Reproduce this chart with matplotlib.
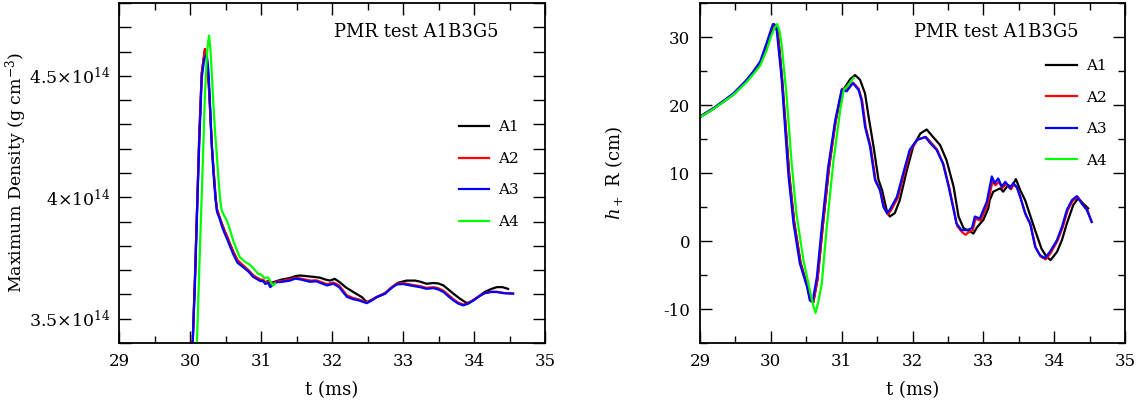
import matplotlib
matplotlib.use("Agg")
import matplotlib.pyplot as plt
from matplotlib.ticker import MultipleLocator, FixedLocator, FixedFormatter

plt.rcParams['font.family'] = ['DejaVu Serif']
plt.rcParams['mathtext.fontset'] = 'dejavuserif'
plt.rcParams['axes.unicode_minus'] = False

# ---------------- Left panel: maximum density (units of 1e14 g/cm^3) ----------------
rho_t_A1 = [30.03, 30.07, 30.10, 30.13, 30.165, 30.21, 30.24, 30.265, 30.29, 30.31, 30.34, 30.36,
            30.38, 30.42, 30.45, 30.49, 30.52, 30.56, 30.61, 30.67, 30.75, 30.82, 30.89, 30.95,
            30.99, 31.03, 31.06, 31.10, 31.15, 31.22, 31.30, 31.40, 31.48, 31.55, 31.65, 31.75,
            31.83, 31.90, 31.97, 32.04, 32.11, 32.20, 32.30, 32.42, 32.49, 32.56, 32.63, 32.70,
            32.77, 32.85, 32.93, 33.05, 33.17, 33.25, 33.33, 33.43, 33.50, 33.57, 33.64, 33.71,
            33.80, 33.90, 33.99, 34.07, 34.15, 34.24, 34.32, 34.40, 34.48]
rho_A1 = [3.34, 3.67, 3.96, 4.25, 4.51, 4.61, 4.56, 4.46, 4.32, 4.20, 4.08, 4.00,
          3.95, 3.915, 3.89, 3.86, 3.84, 3.81, 3.775, 3.74, 3.718, 3.70, 3.678, 3.667,
          3.660, 3.660, 3.650, 3.655, 3.648, 3.655, 3.662, 3.667, 3.675, 3.678, 3.675, 3.672,
          3.669, 3.662, 3.657, 3.664, 3.650, 3.628, 3.610, 3.589, 3.568, 3.578, 3.589, 3.598,
          3.610, 3.630, 3.648, 3.657, 3.657, 3.652, 3.644, 3.647, 3.645, 3.637, 3.620, 3.603,
          3.583, 3.564, 3.575, 3.592, 3.610, 3.622, 3.630, 3.630, 3.623]

rho_t_A2 = [30.03, 30.07, 30.10, 30.13, 30.165, 30.21, 30.24, 30.265, 30.29, 30.31, 30.34, 30.36,
            30.38, 30.42, 30.45, 30.49, 30.52, 30.56, 30.61, 30.67, 30.75, 30.82, 30.89, 30.95,
            30.99, 31.03, 31.06, 31.10, 31.13, 31.17, 31.22, 31.30, 31.41, 31.48, 31.55, 31.69,
            31.78, 31.83, 31.93, 32.02, 32.10, 32.21, 32.30, 32.37, 32.49, 32.56, 32.63, 32.75,
            32.83, 32.91, 33.00, 33.10, 33.24, 33.33, 33.43, 33.50, 33.57, 33.64, 33.71, 33.78,
            33.85, 33.92, 33.99, 34.07, 34.15, 34.24, 34.32, 34.42, 34.55]
rho_A2 = [3.34, 3.67, 3.96, 4.25, 4.51, 4.61, 4.56, 4.46, 4.32, 4.20, 4.08, 4.00,
          3.95, 3.915, 3.89, 3.86, 3.84, 3.81, 3.775, 3.74, 3.718, 3.70, 3.678, 3.667,
          3.660, 3.660, 3.648, 3.652, 3.636, 3.645, 3.653, 3.656, 3.662, 3.668, 3.666, 3.657,
          3.658, 3.653, 3.642, 3.649, 3.637, 3.596, 3.585, 3.580, 3.567, 3.577, 3.590, 3.605,
          3.628, 3.644, 3.647, 3.641, 3.634, 3.627, 3.630, 3.625, 3.615, 3.598, 3.580, 3.566,
          3.558, 3.564, 3.577, 3.593, 3.606, 3.611, 3.611, 3.606, 3.604]

rho_t_A3 = [30.03, 30.07, 30.10, 30.13, 30.165, 30.20, 30.235, 30.26, 30.28, 30.30, 30.33, 30.36,
            30.38, 30.42, 30.45, 30.49, 30.52, 30.56, 30.61, 30.67, 30.75, 30.82, 30.89, 30.95,
            30.99, 31.03, 31.06, 31.10, 31.13, 31.17, 31.22, 31.30, 31.41, 31.48, 31.55, 31.69,
            31.78, 31.83, 31.93, 32.02, 32.10, 32.21, 32.30, 32.37, 32.49, 32.56, 32.63, 32.75,
            32.83, 32.91, 33.00, 33.10, 33.24, 33.33, 33.43, 33.50, 33.57, 33.64, 33.71, 33.78,
            33.85, 33.92, 33.99, 34.07, 34.15, 34.24, 34.32, 34.42, 34.55]
rho_A3 = [3.33, 3.65, 3.94, 4.22, 4.49, 4.57, 4.59, 4.52, 4.40, 4.25, 4.10, 3.99,
          3.94, 3.91, 3.88, 3.85, 3.83, 3.80, 3.765, 3.73, 3.712, 3.695, 3.672, 3.662,
          3.655, 3.655, 3.643, 3.648, 3.630, 3.640, 3.650, 3.652, 3.657, 3.665, 3.662, 3.652,
          3.654, 3.648, 3.637, 3.644, 3.630, 3.590, 3.580, 3.576, 3.564, 3.575, 3.589, 3.603,
          3.625, 3.641, 3.643, 3.637, 3.630, 3.623, 3.626, 3.620, 3.610, 3.592, 3.575, 3.562,
          3.555, 3.562, 3.575, 3.592, 3.605, 3.610, 3.610, 3.605, 3.603]

rho_t_A4 = [30.09, 30.13, 30.17, 30.21, 30.24, 30.268, 30.29, 30.305, 30.33, 30.355, 30.376, 30.40,
            30.425, 30.446, 30.48, 30.517, 30.56, 30.61, 30.65, 30.70, 30.77, 30.845, 30.90, 30.96,
            31.00, 31.05, 31.10, 31.14, 31.17, 31.20]
rho_A4 = [3.33, 3.70, 4.05, 4.42, 4.60, 4.666, 4.60, 4.52, 4.38, 4.26, 4.18, 4.08,
          3.99, 3.946, 3.925, 3.905, 3.87, 3.82, 3.79, 3.754, 3.735, 3.722, 3.705, 3.685,
          3.682, 3.668, 3.670, 3.650, 3.637, 3.645]

# ---------------- Right panel: h+ R (cm) ----------------
h_t_A1 = [29.00, 29.20, 29.47, 29.65, 29.75, 29.85, 29.94, 30.00, 30.04, 30.07, 30.10, 30.16,
          30.21, 30.26, 30.33, 30.42, 30.52, 30.56, 30.60, 30.66, 30.73, 30.82, 30.91, 31.00,
          31.07, 31.12, 31.19, 31.26, 31.33, 31.38, 31.45, 31.52, 31.57, 31.64, 31.68, 31.75,
          31.82, 31.92, 32.01, 32.11, 32.20, 32.29, 32.39, 32.48, 32.58, 32.65, 32.72, 32.81,
          32.86, 32.91, 33.00, 33.07, 33.09, 33.14, 33.24, 33.28, 33.35, 33.40, 33.46, 33.52,
          33.59, 33.66, 33.73, 33.82, 33.89, 33.95, 34.04, 34.11, 34.18, 34.27, 34.34, 34.41,
          34.48]
h_A1 = [18.2, 19.5, 21.5, 23.4, 24.7, 26.0, 28.6, 30.6, 31.8, 31.6, 30.6, 23.8,
        16.8, 9.8, 2.8, -3.2, -6.8, -8.8, -9.0, -5.6, 1.8, 10.6, 17.5, 21.8,
        23.0, 23.8, 24.4, 23.7, 21.7, 18.3, 13.9, 9.0, 7.5, 4.3, 3.6, 4.1,
        6.0, 10.4, 13.9, 15.8, 16.4, 15.3, 14.1, 11.9, 8.0, 3.6, 1.9, 1.4,
        1.1, 2.0, 3.1, 4.8, 6.0, 7.25, 7.75, 7.25, 8.2, 8.0, 9.1, 7.5,
        6.0, 3.8, 1.6, -1.1, -2.3, -2.8, -1.6, 0.15, 2.6, 5.3, 6.3, 5.5,
        4.8]

h_t_A2 = [29.00, 29.20, 29.47, 29.65, 29.75, 29.85, 29.94, 30.00, 30.04, 30.07, 30.10, 30.16,
          30.21, 30.26, 30.33, 30.42, 30.52, 30.56, 30.60, 30.66, 30.73, 30.82, 30.92, 31.01,
          31.07, 31.12, 31.16, 31.24, 31.29, 31.34, 31.41, 31.48, 31.55, 31.60, 31.65, 31.69,
          31.79, 31.88, 31.97, 32.07, 32.19, 32.26, 32.35, 32.44, 32.52, 32.59, 32.63, 32.70,
          32.75, 32.78, 32.85, 32.89, 32.96, 33.06, 33.13, 33.17, 33.22, 33.27, 33.32, 33.39,
          33.43, 33.48, 33.53, 33.60, 33.67, 33.74, 33.81, 33.88, 33.95, 34.05, 34.12, 34.19,
          34.26, 34.33, 34.40, 34.47, 34.53]
h_A2 = [18.3, 19.6, 21.6, 23.5, 24.8, 26.2, 28.8, 30.8, 31.9, 31.6, 30.5, 23.5,
        16.5, 9.5, 2.6, -3.3, -6.8, -8.8, -9.0, -5.5, 2.0, 10.8, 17.8, 22.4,
        22.2, 22.9, 23.3, 22.4, 20.6, 16.7, 13.8, 8.9, 7.3, 4.9, 3.9, 4.4,
        6.3, 9.8, 13.3, 14.9, 15.3, 14.5, 13.4, 11.2, 7.8, 4.3, 2.2, 1.3,
        0.9, 1.2, 1.6, 3.3, 3.0, 5.4, 8.8, 8.2, 8.7, 7.8, 8.4, 7.6,
        8.3, 7.8, 6.2, 3.8, 2.3, -1.0, -2.3, -2.7, -1.8, 0.1, 2.0, 4.5,
        5.9, 6.5, 5.4, 4.5, 2.8]

h_t_A3 = [29.00, 29.20, 29.47, 29.65, 29.75, 29.85, 29.94, 30.00, 30.03, 30.06, 30.08, 30.15,
          30.20, 30.25, 30.32, 30.41, 30.51, 30.55, 30.59, 30.65, 30.72, 30.81, 30.91, 31.00,
          31.07, 31.12, 31.16, 31.24, 31.28, 31.33, 31.40, 31.47, 31.54, 31.59, 31.64, 31.68,
          31.78, 31.87, 31.96, 32.06, 32.18, 32.25, 32.34, 32.43, 32.51, 32.58, 32.62, 32.69,
          32.77, 32.84, 32.88, 32.95, 33.05, 33.12, 33.16, 33.21, 33.26, 33.31, 33.38, 33.42,
          33.47, 33.52, 33.59, 33.66, 33.73, 33.80, 33.87, 33.94, 34.04, 34.11, 34.18, 34.25,
          34.32, 34.39, 34.46, 34.53]
h_A3 = [18.3, 19.6, 21.7, 23.6, 24.9, 26.4, 29.1, 31.0, 31.9, 31.8, 31.3, 24.2,
        16.8, 9.5, 2.6, -3.3, -6.7, -8.7, -8.9, -5.3, 2.1, 10.9, 17.8, 22.3,
        22.0, 22.7, 23.2, 22.2, 20.7, 16.8, 13.9, 9.0, 7.5, 5.0, 4.1, 4.6,
        6.5, 10.0, 13.4, 14.85, 15.3, 14.4, 13.4, 11.4, 8.0, 4.6, 2.6, 1.6,
        1.6, 1.9, 3.6, 3.3, 5.8, 9.5, 8.5, 9.2, 8.0, 8.7, 7.75, 8.5,
        8.0, 6.5, 4.1, 2.6, -0.8, -2.1, -2.5, -1.6, 0.15, 2.1, 4.6, 6.0,
        6.6, 5.5, 4.6, 2.8]

h_t_A4 = [29.00, 29.20, 29.47, 29.65, 29.75, 29.85, 29.94, 30.00, 30.05, 30.09, 30.12, 30.15,
          30.22, 30.29, 30.36, 30.46, 30.55, 30.60, 30.63, 30.67, 30.72, 30.79, 30.88, 30.98,
          31.03, 31.09, 31.17]
h_A4 = [18.2, 19.5, 21.5, 23.3, 24.5, 25.8, 28.0, 30.0, 31.3, 31.9, 31.0, 29.1,
        21.7, 11.9, 4.1, -2.8, -7.2, -9.5, -10.6, -9.0, -6.2, 2.1, 11.4, 19.3,
        22.2, 22.9, 24.0]

labels = ["A1", "A2", "A3", "A4"]
colors = ["black", "#ff0000", "#0000ff", "#00ff00"]
title_text = "PMR test A1B3G5"
rho_tick_vals = [3.5, 4.0, 4.5]
rho_tick_labels = [r"$3.5{\times}10^{14}$", r"$4{\times}10^{14}$", r"$4.5{\times}10^{14}$"]

fig = plt.figure(figsize=(11.39, 4.05), dpi=100)
axL = fig.add_axes([119/1139, 1-343/405, 426/1139, 340/405])
axR = fig.add_axes([700/1139, 1-343/405, 425/1139, 340/405])

for t, y, lab, c in zip([rho_t_A1, rho_t_A2, rho_t_A3, rho_t_A4],
                        [rho_A1, rho_A2, rho_A3, rho_A4], labels, colors):
    axL.plot(t, y, color=c, lw=1.6, label=lab)
for t, y, lab, c in zip([h_t_A1, h_t_A2, h_t_A3, h_t_A4],
                        [h_A1, h_A2, h_A3, h_A4], labels, colors):
    axR.plot(t, y, color=c, lw=1.6, label=lab)

axL.set_xlim(29, 35)
axL.set_ylim(3.4, 4.8)
axR.set_xlim(29, 35)
axR.set_ylim(-15, 35)

for ax in (axL, axR):
    ax.xaxis.set_major_locator(MultipleLocator(1))
    ax.xaxis.set_minor_locator(MultipleLocator(0.5))
    ax.tick_params(which='major', direction='in', top=True, right=True,
                   length=8.5, width=1.0, labelsize=12, pad=7)
    ax.tick_params(which='minor', direction='in', top=True, right=True,
                   length=5, width=1.0)
    for s in ax.spines.values():
        s.set_linewidth(1.3)
    ax.set_xlabel("t (ms)", fontsize=13, labelpad=8)
    ax.text(0.89, 0.915, title_text, transform=ax.transAxes, ha='right', va='center', fontsize=13)

axL.yaxis.set_major_locator(FixedLocator(rho_tick_vals))
axL.yaxis.set_major_formatter(FixedFormatter(rho_tick_labels))
axL.yaxis.set_minor_locator(MultipleLocator(0.1))
axL.tick_params(axis='y', which='minor', length=8.5)
axL.tick_params(axis='y', which='major', labelsize=12.5, pad=6)
axL.set_ylabel(r"Maximum Density (g cm$^{-3}$)", fontsize=12.5)
axL.yaxis.set_label_coords(-0.212, 0.5)

axR.yaxis.set_major_locator(MultipleLocator(10))
axR.yaxis.set_minor_locator(MultipleLocator(5))
axR.set_ylabel(r"$h_+$ R (cm)", fontsize=13)
axR.yaxis.set_label_coords(-0.176, 0.5)

legkw = dict(frameon=False, fontsize=11, handlelength=2.0, labelspacing=1.15,
             handletextpad=0.6, borderpad=0, borderaxespad=0, loc='upper left')
axL.legend(bbox_to_anchor=(0.797, 0.655), **legkw)
axR.legend(bbox_to_anchor=(0.815, 0.835), **legkw)

fig.savefig("out.png", dpi=100)
